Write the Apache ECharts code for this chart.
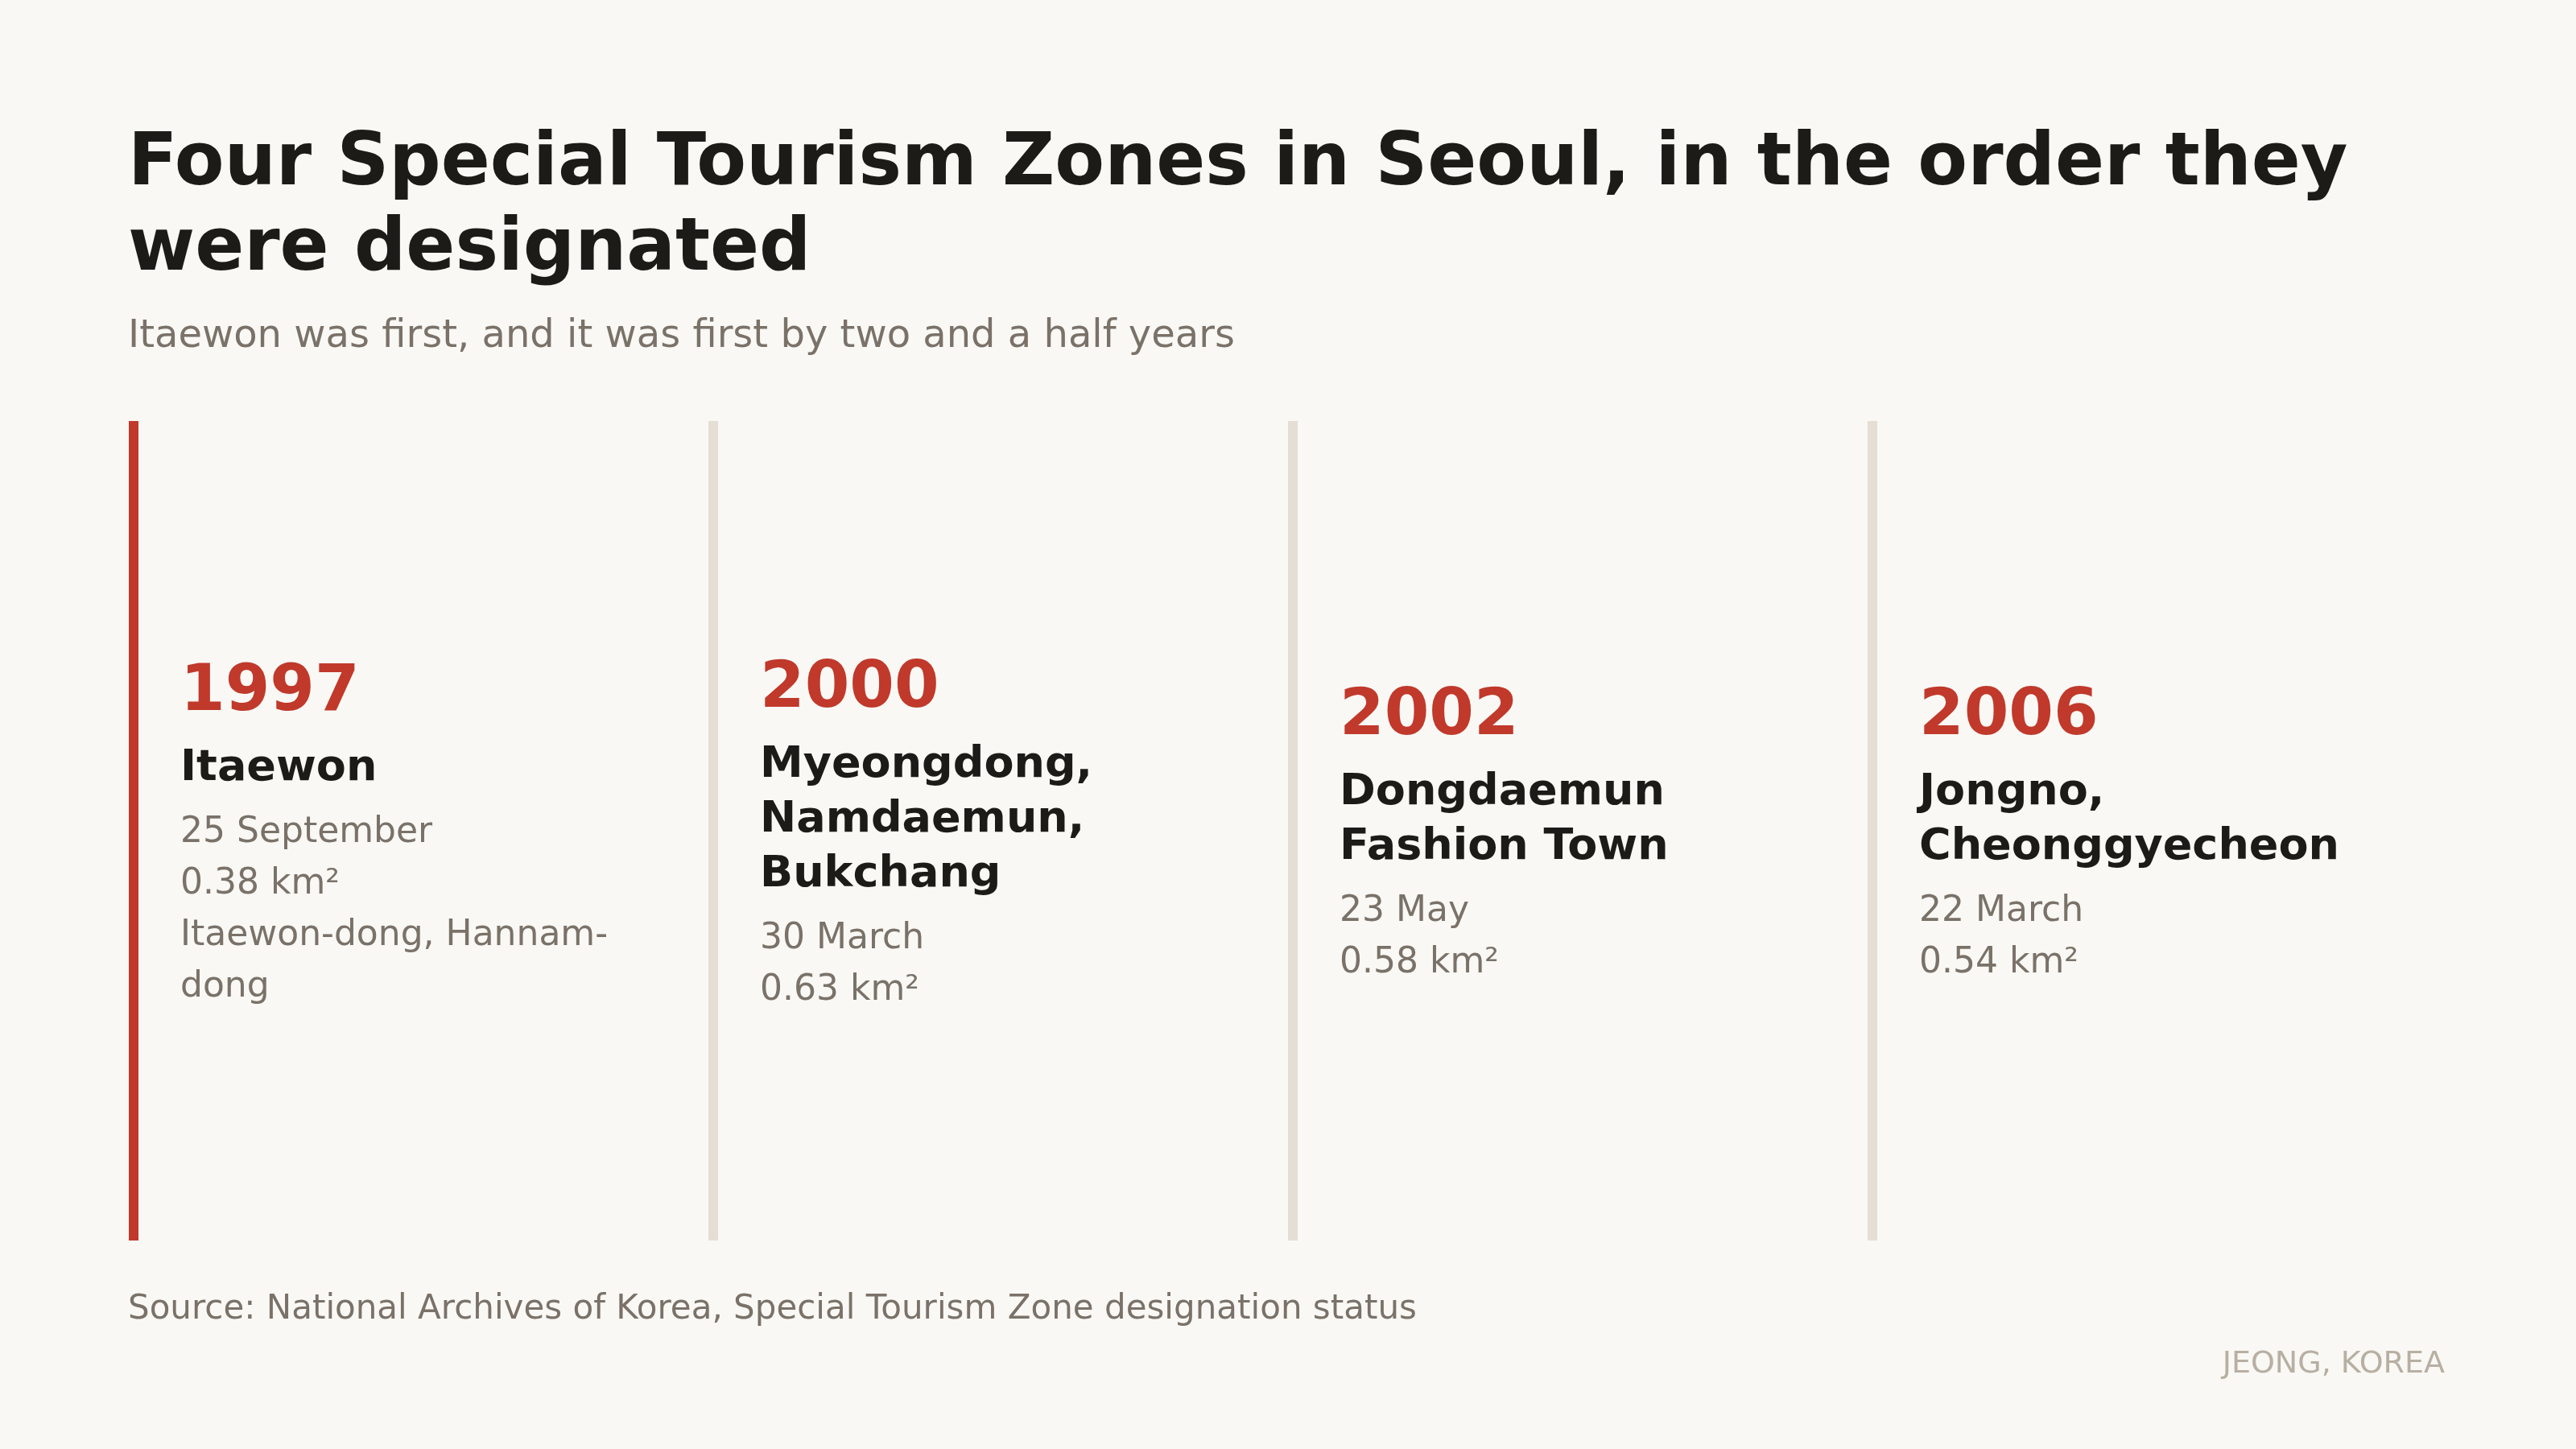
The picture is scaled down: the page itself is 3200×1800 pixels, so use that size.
<!DOCTYPE html>
<html>
<head>
<meta charset="utf-8">
<script src="https://cdn.jsdelivr.net/npm/echarts@6/dist/echarts.min.js"></script>
<style>
  html, body { margin: 0; padding: 0; background: #f9f8f4; }
  #chart { width: 3200px; height: 1800px; }
</style>
</head>
<body>
<div id="chart"></div>
<script>
// Timeline of Seoul's special tourism zones, one column per designation.

const years = ["1997", "2000", "2002", "2006"];
const zoneNames = [
  "Itaewon",
  "Myeongdong,\nNamdaemun,\nBukchang",
  "Dongdaemun\nFashion Town",
  "Jongno,\nCheonggyecheon",
];
const dates = ["25 September", "30 March", "23 May", "22 March"];
const areas = ["0.38 km²", "0.63 km²", "0.58 km²", "0.54 km²"];
const districts = ["Itaewon-dong, Hannam-\ndong", "", "", ""];

const FONT = "DejaVu Sans";
const RED = "#c0392b";
const INK = "#1c1b18";
const GREY = "#7a7269";
const RULE = "#e4ded4";

function columnText(i) {
  // Stack year, zone name and detail lines into one rich text block.
  const details = [dates[i], areas[i]];
  if (districts[i]) details.push(districts[i]);
  return [
    "{year|" + years[i] + "}",
    "{name|" + zoneNames[i] + "}",
    "{sp| }",
    "{det|" + details.join("\n") + "}",
  ].join("\n");
}

function renderColumn(params, api) {
  // Draw the vertical rule at the left of each band and the text block beside it.
  const i = api.value(0);
  const top = api.coord([i, 1]);
  const bottom = api.coord([i, 0]);
  const mid = api.coord([i, 0.5]);
  const band = api.size([1, 0])[0];
  const left = top[0] - band / 2;
  return {
    type: "group",
    children: [
      {
        type: "rect",
        shape: { x: left, y: top[1], width: 12, height: bottom[1] - top[1] },
        style: { fill: i === 0 ? RED : RULE },
      },
      {
        type: "text",
        x: left + 64,
        y: mid[1] - 2,
        style: {
          text: columnText(i),
          align: "left",
          verticalAlign: "middle",
          fontFamily: FONT,
          rich: {
            year: { fontSize: 80, fontWeight: "bold", fill: RED, lineHeight: 120, fontFamily: FONT },
            name: { fontSize: 54, fontWeight: "bold", fill: INK, lineHeight: 68, fontFamily: FONT },
            sp: { fontSize: 10, lineHeight: 14, fontFamily: FONT },
            det: { fontSize: 44, fill: GREY, lineHeight: 64, fontFamily: FONT },
          },
        },
      },
    ],
  };
}

const chart = echarts.init(document.getElementById("chart"));
chart.setOption({
  backgroundColor: "#f9f8f4",
  animation: false,
  title: [
    {
      text: "Four Special Tourism Zones in Seoul, in the order they\nwere designated",
      left: 159,
      top: 153,
      padding: 0,
      textStyle: { fontFamily: FONT, fontSize: 90, fontWeight: "bold", color: INK, lineHeight: 106 },
    },
    {
      text: "Itaewon was first, and it was first by two and a half years",
      left: 159,
      top: 395,
      padding: 0,
      textStyle: { fontFamily: FONT, fontSize: 48, fontWeight: "normal", color: GREY, lineHeight: 48 },
    },
    {
      text: "Source: National Archives of Korea, Special Tourism Zone designation status",
      left: 159,
      top: 1606,
      padding: 0,
      textStyle: { fontFamily: FONT, fontSize: 42, fontWeight: "normal", color: GREY, lineHeight: 42 },
    },
    {
      text: "JEONG, KOREA",
      right: 163,
      top: 1676,
      padding: 0,
      textStyle: { fontFamily: FONT, fontSize: 38, fontWeight: "normal", color: "#b8afa3", lineHeight: 38 },
    },
  ],
  grid: { left: 160, right: 160, top: 523, bottom: 259 },
  xAxis: { type: "category", data: years, show: false },
  yAxis: { type: "value", min: 0, max: 1, show: false },
  series: [
    {
      type: "custom",
      renderItem: renderColumn,
      data: years.map((y, i) => [i]),
      encode: { x: 0 },
      silent: true,
    },
  ],
});
</script>
</body>
</html>
